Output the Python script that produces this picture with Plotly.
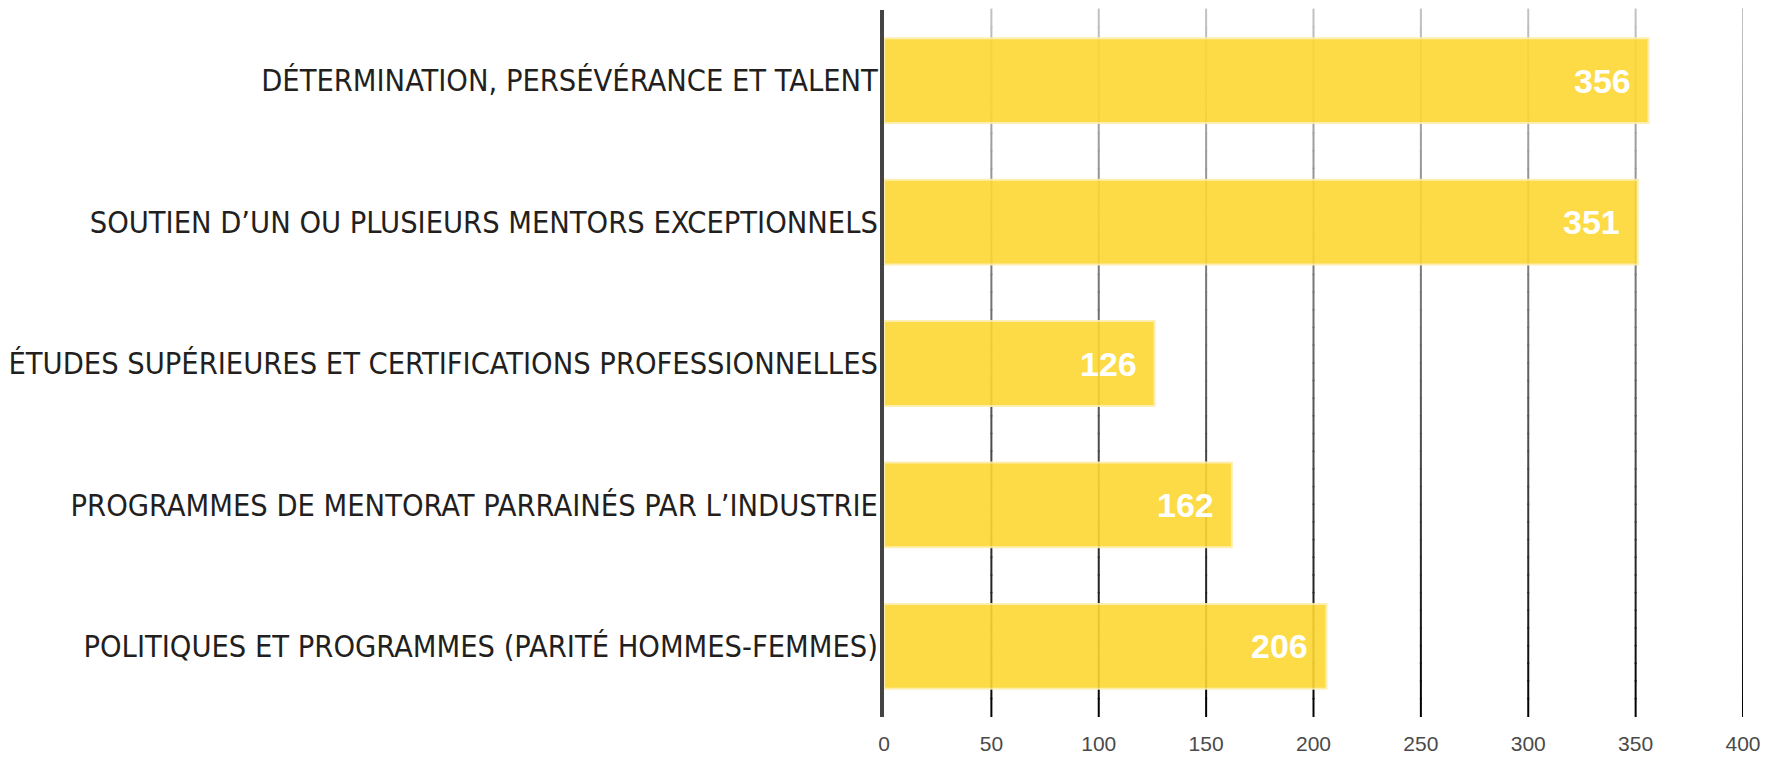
import plotly.graph_objects as go

# Survey results: factors cited as contributing to success
categories = [
    "DÉTERMINATION, PERSÉVÉRANCE ET TALENT",
    "SOUTIEN D’UN OU PLUSIEURS MENTORS EXCEPTIONNELS",
    "ÉTUDES SUPÉRIEURES ET CERTIFICATIONS PROFESSIONNELLES",
    "PROGRAMMES DE MENTORAT PARRAINÉS PAR L’INDUSTRIE",
    "POLITIQUES ET PROGRAMMES (PARITÉ HOMMES-FEMMES)",
]
values = [356, 351, 126, 162, 206]
x_ticks = [0, 50, 100, 150, 200, 250, 300, 350, 400]

X_MAX = 400
BAR_COLOR = "rgb(252,216,51)"

fig = go.Figure()
fig.add_trace(go.Bar(
    x=values,
    y=categories,
    orientation="h",
    marker=dict(color=BAR_COLOR, opacity=0.9,
                line=dict(color="rgba(253,238,170,1)", width=2)),
    hoverinfo="x+y",
))

# Value labels, right-aligned just inside each bar end
for cat, val in zip(categories, values):
    fig.add_annotation(
        x=val, y=cat, xref="x", yref="y",
        text=f"<b>{val}</b>", showarrow=False,
        xanchor="right", xshift=-16,
        font=dict(family="Liberation Sans, Arial, sans-serif", size=34, color="white"),
    )

# Vertical gridlines fading from light gray at the top to black at the bottom
n_seg = 40
for t in x_ticks[1:]:
    for i in range(n_seg):
        f0 = i / n_seg
        f1 = (i + 1) / n_seg
        mid = (f0 + f1) / 2
        g = int(round(195 * mid))  # paper y: 0 bottom (dark) -> 1 top (light)
        fig.add_shape(
            type="line", xref="x", yref="paper",
            x0=t, x1=t, y0=f0, y1=f1 + 0.002,
            line=dict(color=f"rgb({g},{g},{g})", width=2),
            layer="below",
        )

fig.update_layout(
    width=1777, height=758,
    margin=dict(l=884, r=34, t=10, b=41, autoexpand=False),
    paper_bgcolor="white", plot_bgcolor="white",
    bargap=0.4,
    showlegend=False,
    xaxis=dict(
        range=[0, X_MAX], tickvals=x_ticks, showgrid=False, zeroline=False,
        showline=False, ticks="", ticklabelstandoff=12, automargin=False,
        tickfont=dict(family="Liberation Sans, Arial, sans-serif", size=21, color="#4a4a4a"),
    ),
    yaxis=dict(
        categoryorder="array", categoryarray=categories, autorange="reversed",
        showgrid=False, zeroline=False, automargin=False,
        showline=True, linecolor="#444444", linewidth=4,
        ticks="", ticklabelstandoff=-4,
        tickfont=dict(family="Liberation Sans Narrow, DejaVu Sans Condensed, Arial Narrow, sans-serif",
                      size=30.5, color="#231f20"),
    ),
)

fig.write_html("out.html")
